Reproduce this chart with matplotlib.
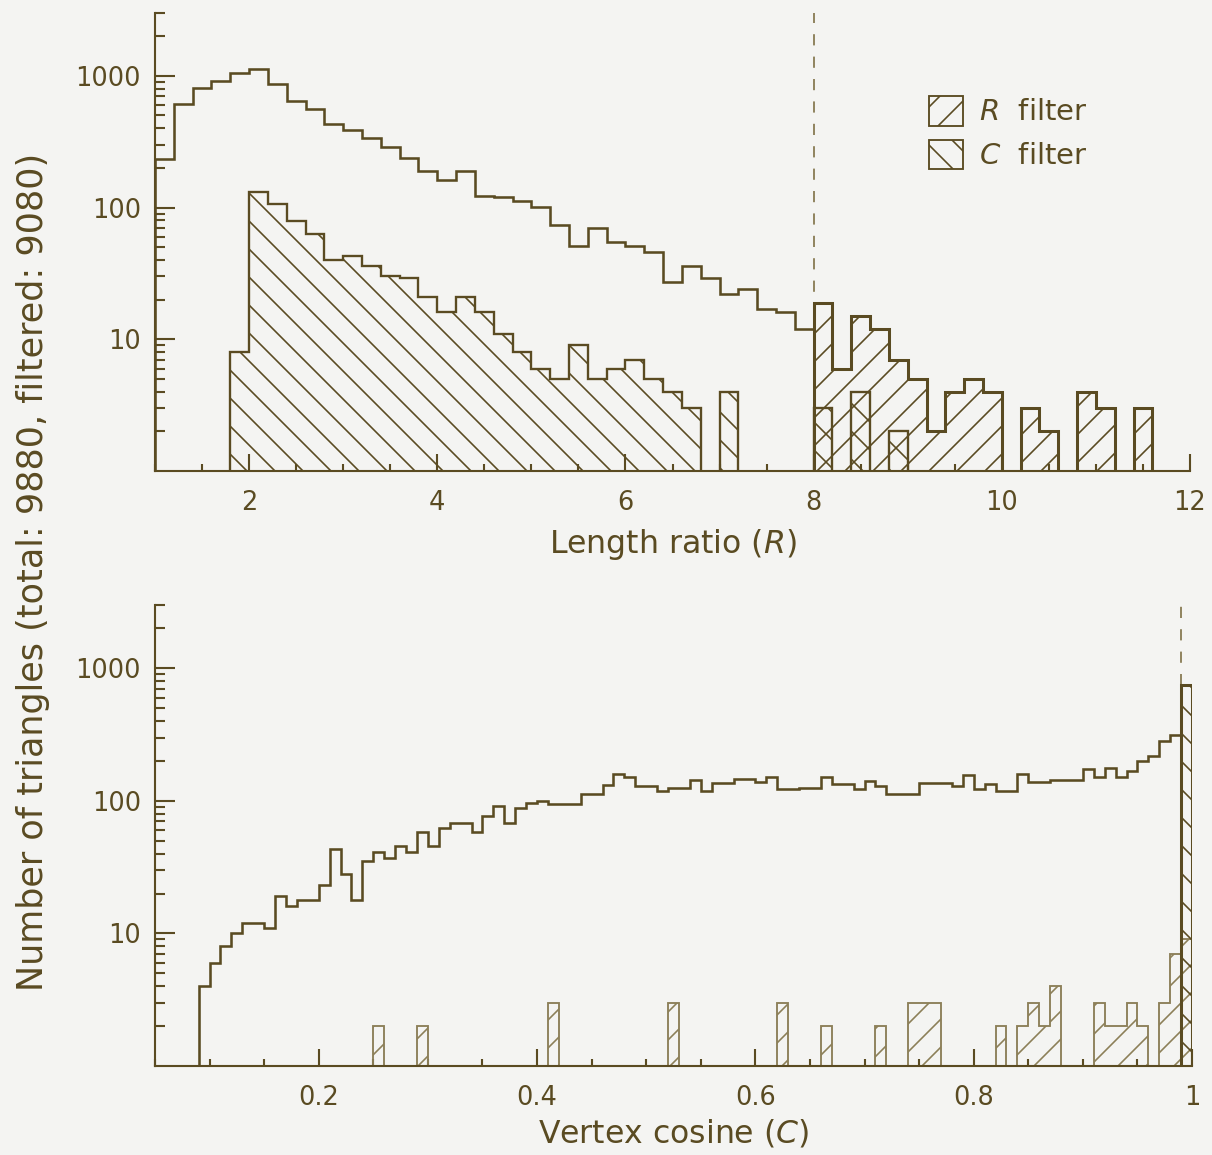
import numpy as np
import matplotlib
matplotlib.use("Agg")
import matplotlib.pyplot as plt
from matplotlib.patches import Patch
from matplotlib.ticker import LogLocator, MultipleLocator, NullFormatter

# ---- top panel: length ratio R, bins of 0.2 between 1 and 12
r_edges = np.round(np.arange(1.0, 12.0001, 0.2), 1)
r_total = [235, 615, 807, 917, 1048, 1123, 870, 647, 563, 434,
           391, 339, 288, 239, 190, 162, 188, 122, 120, 112,
           101, 74, 51, 70, 55, 51, 46, 27, 36, 29,
           22, 24, 17, 16, 12, 19, 6, 15, 12, 7,
           5, 2, 4, 5, 4, 0, 3, 2, 0, 4,
           3, 0, 3, 0, 0]
r_cfilt = [0, 0, 0, 0, 8, 132, 106, 79, 63, 40,
           43, 36, 30, 29, 21, 16, 21, 16, 11, 8,
           6, 5, 9, 5, 6, 7, 5, 4, 3, 0,
           4, 0, 0, 0, 0, 3, 0, 4, 0, 2,
           0, 0, 0, 0, 0, 0, 0, 0, 0, 0,
           0, 0, 0, 0, 0]
r_rfilt = [0] * 35 + [19, 6, 15, 12, 7, 5, 2, 4, 5, 4,
                      0, 3, 2, 0, 4, 3, 0, 3, 0, 0]

# ---- bottom panel: vertex cosine C, bins of 0.01 between 0.09 and 1
c_edges = np.round(np.arange(0.09, 1.0001, 0.01), 2)
c_total = [4, 6, 8, 10, 12, 12, 11, 19, 16, 18,
           18, 23, 43, 28, 18, 35, 41, 37, 46, 41,
           58, 46, 62, 68, 68, 58, 77, 92, 68, 88,
           96, 100, 94, 94, 94, 112, 112, 131, 158, 150,
           129, 129, 119, 126, 126, 143, 119, 137, 137, 147,
           147, 139, 150, 122, 122, 126, 126, 150, 133, 133,
           123, 140, 129, 112, 112, 112, 136, 136, 136, 130,
           157, 123, 133, 119, 119, 158, 139, 139, 143, 143,
           143, 173, 152, 178, 150, 168, 200, 218, 283, 314,
           748]
# R-filtered triangles, per bin start (all other bins empty)
c_rfilt_at = [0.25, 0.29, 0.41, 0.52, 0.62, 0.66, 0.71, 0.74, 0.75, 0.76,
              0.82, 0.84, 0.85, 0.86, 0.87, 0.91, 0.92, 0.93, 0.94, 0.95,
              0.97, 0.98, 0.99]
c_rfilt_n = [2, 2, 3, 3, 3, 2, 2, 3, 3, 3,
             2, 2, 3, 2, 4, 3, 2, 2, 3, 2,
             3, 7, 9]
c_cfilt_at = [0.99]
c_cfilt_n = [748]

r_ticks = [2, 4, 6, 8, 10, 12]
r_ticklabels = ['2', '4', '6', '8', '10', '12']
c_ticks = [0.2, 0.4, 0.6, 0.8, 1.0]
c_ticklabels = ['0.2', '0.4', '0.6', '0.8', '1']
y_ticks = [10, 100, 1000]
y_ticklabels = ['10', '100', '1000']
r_cut = 8
c_cut = 0.99


def per_bin(edges, starts, counts):
    out = np.zeros(len(edges) - 1)
    idx = np.searchsorted(edges, np.round(starts, 2))
    out[idx] = counts
    return out


c_rfilt = per_bin(c_edges, c_rfilt_at, c_rfilt_n)
c_cfilt = per_bin(c_edges, c_cfilt_at, c_cfilt_n)

ink = '#5a4b22'
light = '#8c7f58'
bg = '#f4f4f2'
fwd = '//'          # R filter hatch
back = '\\\\'       # C filter hatch

plt.rcParams['font.family'] = 'DejaVu Sans'
plt.rcParams['mathtext.fontset'] = 'dejavusans'
plt.rcParams['hatch.linewidth'] = 0.7
plt.rcParams['text.color'] = ink

dpi = 168
fig = plt.figure(figsize=(1212 / dpi, 1155 / dpi), dpi=dpi, facecolor=bg)
W, H = 1212.0, 1155.0
ax1 = fig.add_axes([155 / W, 1 - 471 / H, (1190 - 155) / W, (471 - 13) / H])
ax2 = fig.add_axes([155 / W, 1 - 1066 / H, (1192 - 155) / W, (1066 - 605) / H])


def style(ax):
    ax.set_facecolor(bg)
    ax.set_yscale('log')
    ax.set_ylim(1, 3000)
    for s in ['top', 'right']:
        ax.spines[s].set_visible(False)
    for s in ['left', 'bottom']:
        ax.spines[s].set_color(ink)
        ax.spines[s].set_linewidth(0.9)
    ax.set_yticks(y_ticks, labels=y_ticklabels)
    ax.yaxis.set_minor_locator(LogLocator(base=10, subs=np.arange(2, 10)))
    ax.yaxis.set_minor_formatter(NullFormatter())
    ax.tick_params(which='both', direction='in', color=ink, labelcolor=ink,
                   width=0.9, labelsize=11)
    ax.tick_params(axis='y', which='major', length=8.5, pad=6)
    ax.tick_params(axis='y', which='minor', length=4.2)
    ax.tick_params(axis='x', which='major', length=7.3, pad=8)
    ax.tick_params(axis='x', which='minor', length=3.2)


# ---------------- top: length ratio
style(ax1)
ax1.axvline(r_cut, color=light, lw=0.8, ls=(0, (6, 6)), zorder=1)
ax1.stairs(r_cfilt, r_edges, fill=True, facecolor='none', edgecolor=ink,
           hatch=back, lw=1.0, zorder=2)
ax1.stairs(r_rfilt, r_edges, fill=True, facecolor='none', edgecolor=ink,
           hatch=fwd, lw=1.3, zorder=3)
ax1.stairs(r_total, r_edges, color=ink, lw=1.1, zorder=4)
ax1.set_xlim(1, 12)
ax1.set_xticks(r_ticks, labels=r_ticklabels)
ax1.xaxis.set_minor_locator(MultipleLocator(0.5))
ax1.set_xlabel('Length ratio ($R$)', fontsize=13.5, color=ink, labelpad=5)

handles = [Patch(facecolor='none', edgecolor=ink, hatch=fwd, lw=0.8),
           Patch(facecolor='none', edgecolor=ink, hatch=back, lw=0.8)]
ax1.legend(handles, ['$R$  filter', '$C$  filter'], frameon=False,
           loc='upper left', bbox_to_anchor=(0.737, 0.845), borderaxespad=0,
           handlelength=1.15, handleheight=1.2, handletextpad=0.55,
           labelspacing=0.45, fontsize=12.5, labelcolor=ink)

# ---------------- bottom: vertex cosine
style(ax2)
ax2.axvline(c_cut, color=light, lw=0.8, ls=(0, (6, 6)), zorder=1)
ax2.stairs(c_rfilt, c_edges, fill=True, facecolor='none', edgecolor=light,
           hatch=fwd, lw=0.8, zorder=2)
ax2.stairs(c_cfilt, c_edges, fill=True, facecolor='none', edgecolor=ink,
           hatch=back, lw=1.3, zorder=3)
ax2.stairs(c_total, c_edges, color=ink, lw=1.1, zorder=4)
ax2.set_xlim(0.05, 1.0)
ax2.set_xticks(c_ticks, labels=c_ticklabels)
ax2.xaxis.set_minor_locator(MultipleLocator(0.05))
ax2.set_xlabel('Vertex cosine ($C$)', fontsize=13.5, color=ink, labelpad=3)

fig.text(33 / W, 1 - 572 / H, 'Number of triangles (total: 9880, filtered: 9080)',
         rotation=90, ha='center', va='center', fontsize=15, color=ink)

fig.savefig('out.png', dpi=dpi, facecolor=bg)
